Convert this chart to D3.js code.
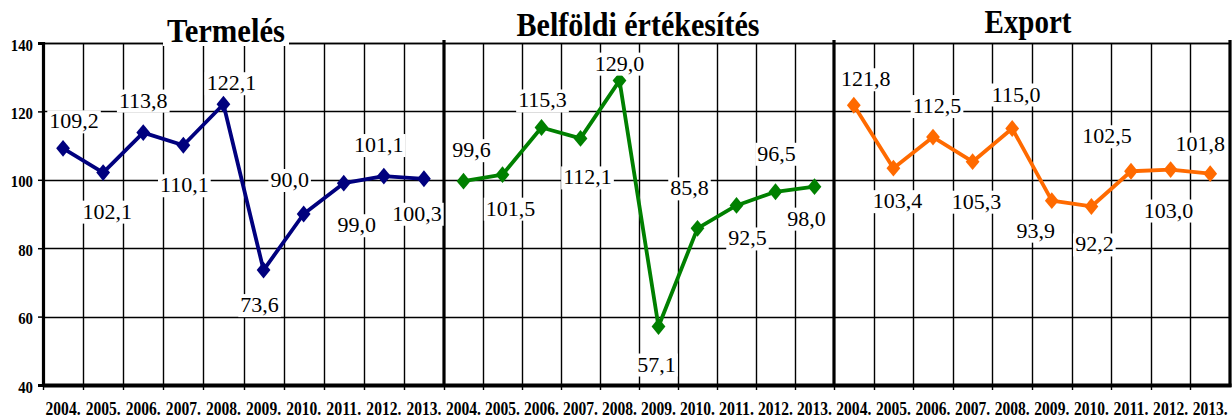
<!DOCTYPE html>
<html>
<head>
<meta charset="utf-8">
<script src="https://cdn.jsdelivr.net/npm/d3@7"></script>
<style>
  html, body { margin: 0; padding: 0; background: #fff; }
  svg { display: block; }
  svg text { font-family: "Liberation Serif", "DejaVu Serif", serif; }
</style>
</head>
<body>
<svg id="chart" width="1232" height="419"></svg>
<script>
// ---------- data ----------
const years = ["2004.", "2005.", "2006.", "2007.", "2008.", "2009.", "2010.", "2011.", "2012.", "2013."];
const titles = ["Termelés", "Belföldi értékesítés", "Export"];
const termeles = [109.2, 102.1, 113.8, 110.1, 122.1, 73.6, 90.0, 99.0, 101.1, 100.3];
const belfoldi = [99.6, 101.5, 115.3, 112.1, 129.0, 57.1, 85.8, 92.5, 96.5, 98.0];
const exportValues = [121.8, 103.4, 112.5, 105.3, 115.0, 93.9, 92.2, 102.5, 103.0, 101.8];
const yTicks = [40, 60, 80, 100, 120, 140];

// ---------- layout (not data) ----------
const labelOffsets = [
  [[11, -20], [4, 46], [0, -25], [1, 47], [8, -14], [-4, 42], [-14, -27], [13, 49], [-5, -24], [-7, 42]],
  [[8, -24], [8, 41], [1, -20], [7, 46], [0, -10], [-2, 45], [-8, -33], [11, 40], [1, -31], [-8, 39]],
  [[12, -19], [4, 40], [4, -24], [4, 47], [4, -27], [-16, 37], [3, 45], [-24, -28], [-2, 48], [-10, -23]]
];
const panels = [
  { title: titles[0], values: termeles, color: "#00007e", range: [43, 444], tx: 226, ty: 42, tw: 118 },
  { title: titles[1], values: belfoldi, color: "#008000", range: [444, 834], tx: 638, ty: 36, tw: 243 },
  { title: titles[2], values: exportValues, color: "#ff6a00", range: [834, 1230], tx: 1028, ty: 33, tw: 87 }
];

const svg = d3.select("#chart");
const y = d3.scaleLinear().domain([40, 140]).range([385, 43]);
const serif = '"Liberation Serif", "DejaVu Serif", serif';
const crisp = v => Math.round(v) + 0.5;

const gGrid = svg.append("g");
const gBorder = svg.append("g");
const gData = svg.append("g");
const gLabels = svg.append("g");

panels.forEach((p, pi) => {
  const x = d3.scaleBand().domain(years).range(p.range).padding(0);

  gGrid.selectAll(null).data(yTicks.filter(t => t > 40)).enter().append("line")
    .attr("x1", p.range[0]).attr("x2", p.range[1])
    .attr("y1", d => crisp(y(d))).attr("y2", d => crisp(y(d)))
    .attr("stroke", "#000").attr("stroke-width", 1.4);
  gGrid.selectAll(null).data(years.slice(1)).enter().append("line")
    .attr("x1", d => crisp(x(d))).attr("x2", d => crisp(x(d)))
    .attr("y1", y(140)).attr("y2", y(40))
    .attr("stroke", "#000").attr("stroke-width", 1.4);
  gGrid.selectAll(null).data(years).enter().append("line")
    .attr("x1", d => crisp(x(d))).attr("x2", d => crisp(x(d)))
    .attr("y1", y(40)).attr("y2", y(40) + 5)
    .attr("stroke", "#000").attr("stroke-width", 1.4);

  const xAxis = d3.axisBottom(x).tickSize(0).tickPadding(0);
  const ga = svg.append("g").attr("transform", `translate(0,${y(40)})`).call(xAxis);
  ga.attr("font-family", serif);
  ga.select(".domain").remove();
  ga.selectAll("text")
    .attr("y", 30).attr("dy", 0)
    .style("font-family", serif).attr("font-weight", "bold").attr("font-size", 18)
    .attr("fill", "#000")
    .attr("textLength", 35).attr("lengthAdjust", "spacingAndGlyphs");

  gBorder.append("line")
    .attr("x1", p.range[1]).attr("x2", p.range[1])
    .attr("y1", y(140) - 3).attr("y2", y(40) + 2)
    .attr("stroke", "#000").attr("stroke-width", 3.2);

  const line = d3.line().x((d, i) => x(years[i]) + x.bandwidth() / 2).y(d => y(d));
  gData.append("path").datum(p.values)
    .attr("d", line).attr("fill", "none")
    .attr("stroke", p.color).attr("stroke-width", 3.8).attr("stroke-linejoin", "round");
  const sym = d3.symbol(d3.symbolDiamond2, 180);
  gData.selectAll(null).data(p.values).enter().append("path")
    .attr("d", sym)
    .attr("transform", (d, i) => `translate(${x(years[i]) + x.bandwidth() / 2},${y(d)}) scale(0.82,1)`)
    .attr("fill", p.color);

  p.values.forEach((v, i) => {
    const cx = x(years[i]) + x.bandwidth() / 2 + labelOffsets[pi][i][0];
    const cy = y(v) + labelOffsets[pi][i][1];
    const g = gLabels.append("g");
    const t = g.append("text")
      .attr("x", cx).attr("y", cy)
      .attr("text-anchor", "middle")
      .style("font-family", serif).attr("font-size", 22).attr("fill", "#000")
      .text(d3.format(".1f")(v).replace(".", ","));
    const b = t.node().getBBox();
    g.insert("rect", "text")
      .attr("x", b.x - 2).attr("y", b.y + 2).attr("width", b.width + 4).attr("height", b.height - 2)
      .attr("fill", "#fff");
  });
});

gBorder.append("line")
  .attr("x1", 43).attr("x2", 1230).attr("y1", crisp(y(140))).attr("y2", crisp(y(140)))
  .attr("stroke", "#000").attr("stroke-width", 1.4);
gBorder.append("line")
  .attr("x1", 43).attr("x2", 1231.5).attr("y1", y(40) + 0.5).attr("y2", y(40) + 0.5)
  .attr("stroke", "#000").attr("stroke-width", 4);

const yAxis = d3.axisLeft(y).tickValues(yTicks).tickSize(5).tickPadding(5).tickFormat(d3.format("d"));
const gy = svg.append("g").attr("transform", "translate(43,0)").call(yAxis);
gy.attr("font-family", serif);
gy.select(".domain").attr("stroke", "#000").attr("stroke-width", 3.2);
gy.selectAll(".tick line").attr("stroke", "#000").attr("stroke-width", 1.5);
gy.selectAll(".tick text")
  .attr("dy", 7)
  .style("font-family", serif).attr("font-weight", "bold").attr("font-size", 17).attr("fill", "#000")
  .each(function (d) { d3.select(this).attr("textLength", String(d).length * 7.4).attr("lengthAdjust", "spacingAndGlyphs"); });

panels.forEach(p => {
  const g = svg.append("g");
  const t = g.append("text")
    .attr("x", p.tx).attr("y", p.ty).attr("text-anchor", "middle")
    .style("font-family", serif).attr("font-weight", "bold").attr("font-size", 34)
    .attr("fill", "#000")
    .attr("textLength", p.tw).attr("lengthAdjust", "spacingAndGlyphs")
    .text(p.title);
  const b = t.node().getBBox();
  g.insert("rect", "text")
    .attr("x", p.tx - p.tw / 2 - 4).attr("y", b.y + 4).attr("width", p.tw + 8).attr("height", p.ty + 4 - (b.y + 4))
    .attr("fill", "#fff");
});
</script>
</body>
</html>
